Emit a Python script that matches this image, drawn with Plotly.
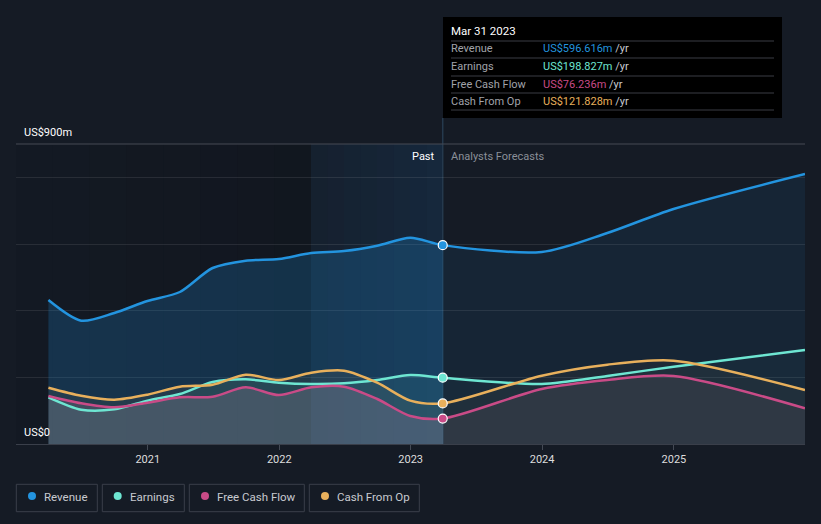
import plotly.graph_objects as go

# ---- data (US$m) ----
past_dates = ["2020-03-31", "2020-06-30", "2020-09-30", "2020-12-31", "2021-03-31", "2021-06-30",
              "2021-09-30", "2021-12-31", "2022-03-31", "2022-06-30", "2022-09-30", "2022-12-31",
              "2023-03-31"]
fc_dates = ["2023-03-31", "2023-12-31", "2024-06-30", "2024-12-31", "2025-12-31"]

revenue_past = [432, 370, 393, 429, 456, 528, 550, 555, 573, 579, 595, 619, 596.616]
earnings_past = [140, 103, 104, 130, 150, 186, 194, 184, 180, 182, 192, 207, 198.827]
fcf_past = [144, 122, 110, 124, 140, 142, 170, 147, 170, 172, 135, 84, 76.236]
cfo_past = [169, 145, 133, 148, 172, 178, 208, 192, 214, 220, 184, 130, 121.828]

revenue_fc = [596.616, 576, 633, 705, 810]
earnings_fc = [198.827, 180, 204, 232, 282]
fcf_fc = [76.236, 165, 192, 204, 107]
cfo_fc = [121.828, 205, 238, 250, 162]

names = ["Revenue", "Earnings", "Free Cash Flow", "Cash From Op"]
colors = ["#2394df", "#6ee6d2", "#c94b87", "#e8b05c"]
tip_vals = ["US$596.616m", "US$198.827m", "US$76.236m", "US$121.828m"]

BG = "#151b25"
FONT = "Roboto"
SPL = dict(shape="spline", smoothing=0.8)

fig = go.Figure()

all_dates = past_dates + fc_dates[1:]
series = {
    "Revenue": (revenue_past, revenue_past + revenue_fc[1:]),
    "Earnings": (earnings_past, earnings_past + earnings_fc[1:]),
    "Free Cash Flow": (fcf_past, fcf_past + fcf_fc[1:]),
    "Cash From Op": (cfo_past, cfo_past + cfo_fc[1:]),
}

def add_fill(x, y, fc):
    fig.add_trace(go.Scatter(x=x, y=y, mode="lines", line=dict(width=0, **SPL), fill="tozeroy",
                             fillcolor=fc, hoverinfo="skip", showlegend=False))

# fills: (full-range colour, extra past colour)
fill_spec = [
    ("Revenue", "rgba(35,148,223,0.09)", "rgba(35,148,223,0.15)"),
    ("Earnings", "rgba(110,230,210,0.03)", "rgba(110,230,210,0.05)"),
    ("Cash From Op", "rgba(232,176,92,0.04)", "rgba(232,176,92,0.03)"),
    ("Free Cash Flow", "rgba(201,75,135,0.04)", "rgba(201,75,135,0.04)"),
]
for n, full_c, past_c in fill_spec:
    p, full = series[n]
    add_fill(all_dates, full, full_c)
    add_fill(past_dates, p, past_c)
# grey base under free cash flow
add_fill(all_dates, series["Free Cash Flow"][1], "rgba(225,215,215,0.05)")
add_fill(past_dates, series["Free Cash Flow"][0], "rgba(200,205,220,0.07)")

# lines
for n, c in zip(names, colors):
    fig.add_trace(go.Scatter(x=all_dates, y=series[n][1], mode="lines", name=n,
                             line=dict(color=c, width=2.5, **SPL), hoverinfo="skip", showlegend=False))

# markers at present
for n, c in zip(names, colors):
    p = series[n][0]
    fig.add_trace(go.Scatter(x=[past_dates[-1]], y=[p[-1]], mode="markers",
                             marker=dict(color=c, size=9, line=dict(color="white", width=1.2)),
                             hoverinfo="skip", showlegend=False))

def px_x(px):
    return (px - 16) / 789.0

def px_y(py):
    return (444 - py) / 300.0

shapes = []
# dark past region (gradient)
steps = 8
for i in range(steps):
    x0 = 16 + (311 - 16) * i / steps
    x1 = 16 + (311 - 16) * (i + 1) / steps
    a = 0.04 + 0.16 * (i + 1) / steps
    shapes.append(dict(type="rect", xref="paper", yref="paper", x0=px_x(x0), x1=px_x(x1), y0=0, y1=1,
                       fillcolor=f"rgba(5,8,12,{a:.3f})", line=dict(width=0), layer="below"))
# highlighted last year
for i in range(steps):
    x0 = 311 + (443 - 311) * i / steps
    x1 = 311 + (443 - 311) * (i + 1) / steps
    a = 0.06 + 0.10 * (i + 1) / steps
    shapes.append(dict(type="rect", xref="paper", yref="paper", x0=px_x(x0), x1=px_x(x1), y0=0, y1=1,
                       fillcolor=f"rgba(30,110,180,{a:.3f})", line=dict(width=0), layer="below"))
# vertical line
shapes.append(dict(type="line", xref="x", yref="paper", x0="2023-03-31", x1="2023-03-31", y0=0, y1=px_y(118),
                   line=dict(color="#25394d", width=1.5), layer="below"))
# top (900) line
shapes.append(dict(type="line", xref="paper", yref="paper", x0=0, x1=1, y0=1, y1=1,
                   line=dict(color="#464b55", width=1)))
# tooltip box
shapes.append(dict(type="rect", xref="paper", yref="paper", x0=px_x(443), x1=px_x(782), y0=px_y(17), y1=px_y(118),
                   fillcolor="#000000", line=dict(width=0)))
for ly in [41, 58, 76, 93, 110]:
    shapes.append(dict(type="line", xref="paper", yref="paper", x0=px_x(451), x1=px_x(774), y0=px_y(ly), y1=px_y(ly),
                       line=dict(color="#3a3d44", width=1)))

annotations = []
annotations.append(dict(xref="paper", yref="paper", x=px_x(449), y=px_y(31), text="Mar 31 2023", showarrow=False,
                        xanchor="left", yanchor="middle", font=dict(color="white", size=11.5, family=FONT)))
for i, (n, c, v) in enumerate(zip(names, colors, tip_vals)):
    yy = [48.5, 66, 84, 101][i]
    annotations.append(dict(xref="paper", yref="paper", x=px_x(449), y=px_y(yy), text=n, showarrow=False,
                            xanchor="left", yanchor="middle", font=dict(color="#a0a3aa", size=11, family=FONT)))
    annotations.append(dict(xref="paper", yref="paper", x=px_x(541), y=px_y(yy),
                            text=f"<span style='color:{c}'>{v}</span> /yr", showarrow=False,
                            xanchor="left", yanchor="middle", font=dict(color="#c8cad0", size=11, family=FONT)))

annotations.append(dict(xref="paper", yref="paper", x=px_x(437), y=px_y(156), text="Past", showarrow=False,
                        xanchor="right", yanchor="middle", font=dict(color="white", size=11, family=FONT)))
annotations.append(dict(xref="paper", yref="paper", x=px_x(449), y=px_y(156), text="Analysts Forecasts", showarrow=False,
                        xanchor="left", yanchor="middle", font=dict(color="#8a8f98", size=11, family=FONT)))
annotations.append(dict(xref="paper", yref="paper", x=px_x(22), y=px_y(132), text="US$900m", showarrow=False,
                        xanchor="left", yanchor="middle", font=dict(color="white", size=11, family=FONT)))
annotations.append(dict(xref="paper", yref="paper", x=px_x(22), y=px_y(432), text="US$0", showarrow=False,
                        xanchor="left", yanchor="middle", font=dict(color="white", size=11, family=FONT)))

# legend boxes
boxes = [(16.3, 97.3), (102.3, 184.3), (189.3, 304.3), (309.3, 419.3)]
dots = [32, 117.7, 205, 325]
texts = [42, 128, 215, 335]
for (bx0, bx1), dx, tx, n, c in zip(boxes, dots, texts, names, colors):
    shapes.append(dict(type="rect", xref="paper", yref="paper", x0=px_x(bx0), x1=px_x(bx1), y0=px_y(484.3), y1=px_y(511.7),
                       line=dict(color="#3a3f4a", width=1), fillcolor="rgba(0,0,0,0)"))
    shapes.append(dict(type="circle", xref="paper", yref="paper", x0=px_x(dx - 4), x1=px_x(dx + 4),
                       y0=px_y(496 + 4), y1=px_y(496 - 4), fillcolor=c, line=dict(width=0)))
    annotations.append(dict(xref="paper", yref="paper", x=px_x(tx), y=px_y(496.5), text=n, showarrow=False,
                            xanchor="left", yanchor="middle", font=dict(color="#c8cad0", size=11.5, family=FONT)))

fig.update_layout(
    width=821, height=524,
    margin=dict(l=16, r=16, t=144, b=80),
    paper_bgcolor=BG, plot_bgcolor=BG,
    shapes=shapes, annotations=annotations,
    font=dict(family=FONT, color="#dddddd", size=11),
    xaxis=dict(range=["2020-01-01", "2025-12-31"], showgrid=False, zeroline=False,
               tickvals=["2021-01-01", "2022-01-01", "2023-01-01", "2024-01-01", "2025-01-01"],
               ticktext=["2021", "2022", "2023", "2024", "2025"],
               ticks="outside", ticklen=5, tickcolor="#444a55", showline=True, linecolor="#3a3f4a",
               tickfont=dict(color="#dddddd", size=11, family=FONT)),
    yaxis=dict(range=[0, 900], tickvals=[0, 200, 400, 600, 800], showticklabels=False,
               gridcolor="rgba(255,255,255,0.09)", zeroline=False, showline=False),
    showlegend=False,
)

fig.write_html("out.html", config={"displayModeBar": False},
               post_script="document.body.style.margin='0';document.body.style.background='#151b25';document.body.style.overflow='hidden';")
